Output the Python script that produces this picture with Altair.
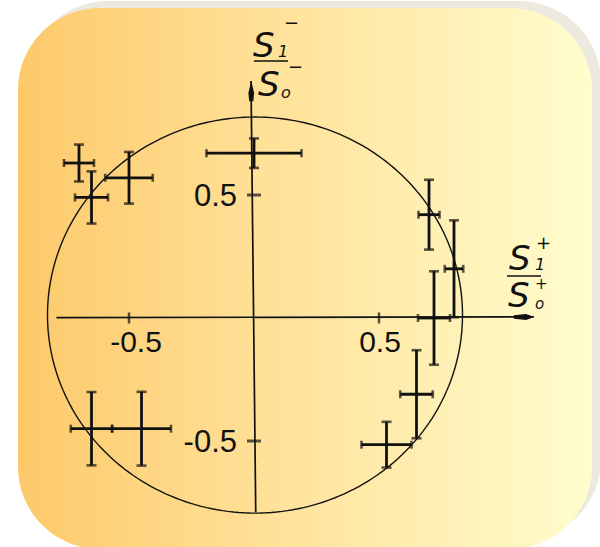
import altair as alt
import numpy as np
import pandas as pd

# Measured points: x = S1+/S0+, y = S1-/S0-, with their uncertainties
pt_x = [0.00, -0.70, -0.65, -0.50, 0.70, 0.80, 0.72, 0.65, 0.53, -0.65, -0.45]
pt_y = [0.67, 0.63, 0.49, 0.57, 0.42, 0.20, 0.00, -0.31, -0.515, -0.45, -0.45]
err_x = [0.19, 0.06, 0.066, 0.095, 0.042, 0.037, 0.064, 0.065, 0.10, 0.083, 0.118]
err_y = [0.06, 0.075, 0.106, 0.105, 0.142, 0.197, 0.19, 0.179, 0.093, 0.149, 0.15]

tick_values = [-0.5, 0.5]
tick_labels = ["-0.5", "0.5"]

# Boundary circle of allowed values
circle_cx, circle_cy = 0.004, 0.012
circle_rx, circle_ry = 0.83, 0.805

# Axis extents
x_axis_from, x_axis_to = -0.79, 1.12
y_axis_from, y_axis_to = -0.79, 0.963

INK = "#111111"
NUM_FONT = "Liberation Sans Narrow, Liberation Sans, sans-serif"
TITLE_FONT = "DejaVu Sans, sans-serif"

xs = alt.Scale(domain=[-1.016, 1.384], nice=False, zero=False)
ys = alt.Scale(domain=[-0.9309, 1.2927], nice=False, zero=False)


def X(f):
    return alt.X(f, type="quantitative", scale=xs, axis=None)


def Y(f):
    return alt.Y(f, type="quantitative", scale=ys, axis=None)


pts = pd.DataFrame({"x": pt_x, "y": pt_y, "ex": err_x, "ey": err_y})
pts["xlo"] = pts.x - pts.ex
pts["xhi"] = pts.x + pts.ex
pts["ylo"] = pts.y - pts.ey
pts["yhi"] = pts.y + pts.ey

t = np.linspace(0, 2 * np.pi, 241)
circ = pd.DataFrame({
    "i": np.arange(len(t)),
    "x": circle_cx + circle_rx * np.cos(t),
    "y": circle_cy + circle_ry * np.sin(t),
})

ticks = pd.DataFrame({"v": tick_values, "label": tick_labels, "zero": 0.0})

# Card background with soft shadow
shadow = alt.Chart(pd.DataFrame({"a": [0]})).mark_rect(
    fill="#ECE9DF", cornerRadius=82
).encode(x=alt.value(26), x2=alt.value(601), y=alt.value(1), y2=alt.value(541))

card = alt.Chart(pd.DataFrame({"a": [0]})).mark_rect(
    cornerRadius=82,
    fill=alt.Gradient(
        gradient="linear", x1=0, x2=1, y1=0, y2=0,
        stops=[
            alt.GradientStop(offset=0, color="#FDC96A"),
            alt.GradientStop(offset=0.45, color="#FFE29A"),
            alt.GradientStop(offset=1, color="#FFFDCE"),
        ],
    ),
).encode(x=alt.value(18), x2=alt.value(592), y=alt.value(8), y2=alt.value(549))

circle = alt.Chart(circ).mark_line(color=INK, strokeWidth=1.4).encode(
    x=X("x"), y=Y("y"), order="i:Q"
)

axes_df = pd.DataFrame({
    "x": [x_axis_from, -0.012], "x2": [x_axis_to, 0.007],
    "y": [0.0015, y_axis_to], "y2": [0.005, y_axis_from],
})
axes = alt.Chart(axes_df).mark_rule(color=INK, strokeWidth=1.7).encode(
    x=X("x"), x2="x2", y=Y("y"), y2="y2"
)

arrow_x = alt.Chart(pd.DataFrame({"x": [x_axis_to - 0.04], "y": [0.004]})).mark_point(
    shape="M1,0L0.2,-0.3L-1,-0.18L-1,0.18L0.2,0.3Z", filled=True, color=INK, size=420, opacity=1
).encode(x=X("x"), y=Y("y"))

arrow_y = alt.Chart(pd.DataFrame({"x": [-0.011], "y": [y_axis_to - 0.04]})).mark_point(
    shape="M0,-1L0.28,0.2L0.2,1L-0.2,1L-0.28,0.2Z", filled=True, color=INK, size=420, opacity=1
).encode(x=X("x"), y=Y("y"))

x_ticks = alt.Chart(ticks).mark_tick(
    orient="vertical", color=INK, thickness=2.5, size=11
).encode(x=X("v"), y=Y("zero"))

y_ticks = alt.Chart(ticks).mark_tick(
    orient="horizontal", color=INK, thickness=3, size=14
).encode(x=X("zero"), y=Y("v"))

bar_x = alt.Chart(pts).mark_rule(color=INK, strokeWidth=2.8).encode(
    x=X("xlo"), x2="xhi", y=Y("y")
)
bar_y = alt.Chart(pts).mark_rule(color=INK, strokeWidth=2.8).encode(
    x=X("x"), y=Y("ylo"), y2="yhi"
)
cap_x = alt.Chart(pts).transform_fold(["xlo", "xhi"], as_=["end", "cx"]).mark_tick(
    orient="vertical", color=INK, thickness=2.6, size=8
).encode(x=X("cx"), y=Y("y"))
cap_y = alt.Chart(pts).transform_fold(["ylo", "yhi"], as_=["end", "cy"]).mark_tick(
    orient="horizontal", color=INK, thickness=2.6, size=10
).encode(x=X("x"), y=Y("cy"))

x_label_neg = alt.Chart(ticks).transform_filter(alt.datum.v < 0).mark_text(
    font=NUM_FONT, fontSize=30, color=INK, align="center", baseline="alphabetic", dx=7, dy=34
).encode(x=X("v"), y=Y("zero"), text="label:N")

x_label_pos = alt.Chart(ticks).transform_filter(alt.datum.v > 0).mark_text(
    font=NUM_FONT, fontSize=30, color=INK, align="center", baseline="alphabetic", dx=1, dy=34
).encode(x=X("v"), y=Y("zero"), text="label:N")

y_labels = alt.Chart(ticks).mark_text(
    font=NUM_FONT, fontSize=31, color=INK, align="right", baseline="alphabetic", dx=-17, dy=11
).encode(x=X("zero"), y=Y("v"), text="label:N")

# Fraction-style axis titles: S1-/S0- on the vertical axis, S1+/S0+ on the horizontal one
title_text = ["S", "1", "\u2212", "S", "o", "\u2212",
              "S", "1", "+", "S", "o", "+"]
title_px = [253, 278, 284, 258, 281, 288,
            509, 535, 536, 508, 535, 535]
title_py = [57, 57, 29, 96, 98, 73,
            270, 270, 249, 307, 309, 289]
title_size = [34, 16, 18, 34, 16, 18,
              34, 16, 18, 34, 15, 15]
titles = pd.DataFrame({"t": title_text, "px": title_px, "py": title_py, "s": title_size})

title_marks = alt.Chart(titles).mark_text(
    font=TITLE_FONT, fontStyle="italic", color=INK, align="left", baseline="alphabetic"
).encode(
    x=alt.X("px:Q", scale=None, axis=None),
    y=alt.Y("py:Q", scale=None, axis=None),
    text="t:N",
    size=alt.Size("s:Q", scale=None, legend=None),
)

frac_df = pd.DataFrame({"x": [254, 507], "x2": [288, 541], "y": [61, 276]})
frac_bars = alt.Chart(frac_df).mark_rule(color=INK, strokeWidth=1.6).encode(
    x=alt.X("x:Q", scale=None, axis=None), x2="x2:Q",
    y=alt.Y("y:Q", scale=None, axis=None),
)

chart = alt.layer(
    shadow, card, circle, axes, arrow_x, arrow_y, x_ticks, y_ticks,
    bar_x, bar_y, cap_x, cap_y, x_label_neg, x_label_pos, y_labels, title_marks, frac_bars,
).properties(
    width=600, height=547, padding=0, autosize="none", background="white"
).configure_view(stroke=None)

chart.save("out.html", embed_options={"renderer": "svg", "actions": False})
